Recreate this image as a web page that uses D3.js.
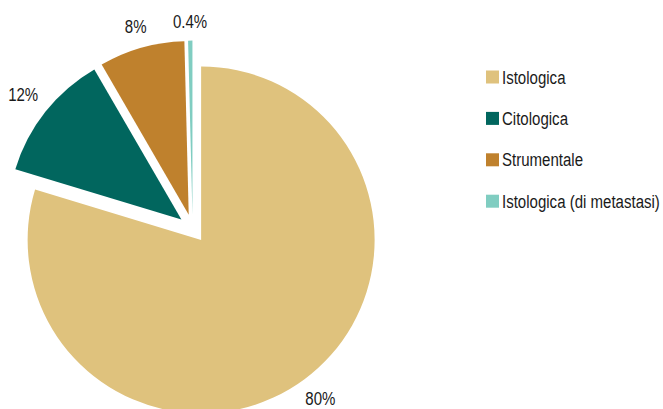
<!DOCTYPE html>
<html>
<head>
<meta charset="utf-8">
<script src="https://cdn.jsdelivr.net/npm/d3@7"></script>
<style>
  html, body { margin: 0; padding: 0; background: #fff; }
  svg { display: block; }
  text { font-family: "Liberation Sans", Arial, Helvetica, sans-serif; fill: #1a1a1a; }
</style>
</head>
<body>
<svg id="chart" width="663" height="409"></svg>
<script>
// ---- data ----
const categories = ["Istologica", "Citologica", "Strumentale", "Istologica (di metastasi)"];
const values = [80, 12, 8, 0.4];
const valueLabels = ["80%", "12%", "8%", "0.4%"];
const colors = ["#dfc27d", "#01665e", "#bf812d", "#80cdc1"];

// ---- layout ----
const W = 663, H = 409;
const cx = 192.6, cy = 228.4;
const radius = 173.5;
const explode = 14.3;
const labelR = 186;
const fontSize = 18;
const narrow = 0.835; // condensed text look

const svg = d3.select("#chart");
const data = categories.map((c, i) => ({ name: c, value: values[i], label: valueLabels[i], color: colors[i] }));

const pie = d3.pie().value(d => d.value).sort(null);
const arc = d3.arc().innerRadius(0).outerRadius(radius);
const arcs = pie(data);

const g = svg.append("g").attr("transform", `translate(${cx},${cy})`);

function dir(a) {
  const mid = (a.startAngle + a.endAngle) / 2;
  return [Math.sin(mid), -Math.cos(mid)];
}

const slice = g.selectAll("g.slice").data(arcs).join("g")
  .attr("class", "slice")
  .attr("transform", d => { const [ux, uy] = dir(d); return `translate(${ux * explode},${uy * explode})`; });

slice.append("path")
  .attr("d", arc)
  .attr("fill", d => d.data.color);

// labels
slice.each(function(d) {
  const [ux, uy] = dir(d);
  const lg = d3.select(this).append("g");
  const t = lg.append("text")
    .attr("font-size", fontSize)
    .attr("text-anchor", "middle")
    .text(d.data.label);
  const w = t.node().getComputedTextLength() * narrow;
  const hw = w / 2, hh = fontSize * 0.716 / 2;
  const ext = Math.abs(ux) * hw + Math.abs(uy) * hh;
  const px = ux * (labelR + ext);
  let py = uy * (labelR + ext) + hh;
  // keep text (with descent) inside the picture
  const absBase = cy + uy * explode + py;
  const maxBase = H - fontSize * 0.23;
  if (absBase > maxBase) py -= absBase - maxBase;
  lg.attr("transform", `translate(${px},${py}) scale(${narrow},1)`);
});

// legend
const legend = svg.append("g").attr("transform", "translate(486,70.5)");
const rowH = 41.4;
const item = legend.selectAll("g").data(data).join("g")
  .attr("transform", (d, i) => `translate(0,${i * rowH})`);
item.append("rect").attr("width", 13).attr("height", 13).attr("fill", d => d.color);
item.append("g").attr("transform", `translate(16,13) scale(${narrow},1)`)
  .append("text").attr("font-size", fontSize).text(d => d.name);
</script>
</body>
</html>
